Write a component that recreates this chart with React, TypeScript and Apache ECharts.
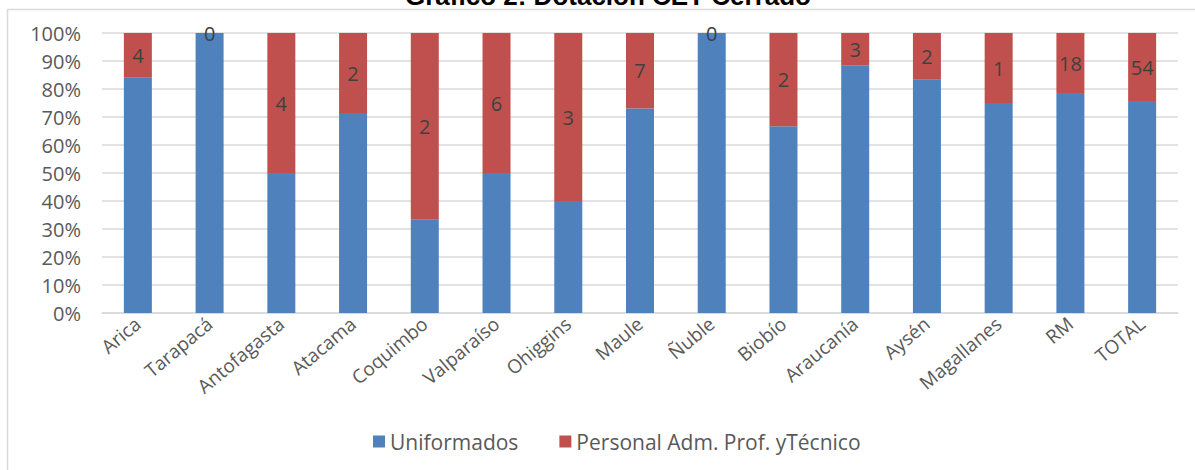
import React, { useEffect, useRef } from "react";
import * as echarts from "echarts";

const categories = [
  "Arica", "Tarapacá", "Antofagasta", "Atacama", "Coquimbo", "Valparaíso", "Ohiggins",
  "Maule", "Ñuble", "Biobío", "Araucanía", "Aysén", "Magallanes", "RM", "TOTAL",
];
const uniformados = [21, 2, 4, 5, 1, 6, 2, 19, 2, 4, 23, 10, 3, 66, 168];
const personal = [4, 0, 4, 2, 2, 6, 3, 7, 0, 2, 3, 2, 1, 18, 54];
const seriesNames = ["Uniformados", "Personal Adm. Prof. yTécnico"];
const title = "Gráfico 2: Dotación CET Cerrado";

const FONT = '"Open Sans", sans-serif';

export default function App() {
  const ref = useRef<HTMLDivElement>(null);
  useEffect(() => {
    if (!ref.current) return;
    const chart = echarts.init(ref.current, null, { renderer: "svg" });
    const totals = uniformados.map((u, i) => u + personal[i]);
    const blueData = uniformados.map((u, i) => ({ value: (u / totals[i]) * 100, count: u }));
    const redData = personal.map((p, i) => ({ value: (p / totals[i]) * 100, count: p }));
    chart.setOption({
      animation: false,
      backgroundColor: "#ffffff",
      graphic: [
        {
          type: "rect",
          shape: { x: 7.5, y: 9.5, width: 1400, height: 700 },
          style: { fill: "none", stroke: "#d9d9d9", lineWidth: 1.5 },
          silent: true,
        },
        {
          type: "text",
          x: 608,
          y: -4,
          style: {
            text: title,
            font: 'bold 26px "Liberation Sans", Arial, sans-serif',
            fill: "#000000",
            align: "center",
            verticalAlign: "middle",
          },
        },
      ],
      grid: { left: 102, right: 17, top: 33, bottom: 157, containLabel: false },
      legend: {
        bottom: 13,
        left: 368,
        itemWidth: 12,
        itemHeight: 12,
        itemGap: 41,
        icon: "rect",
        textStyle: { fontFamily: FONT, fontSize: 21, color: "#595959" },
        data: seriesNames,
      },
      xAxis: {
        type: "category",
        data: categories,
        axisLine: { lineStyle: { color: "#d9d9d9", width: 1.5 } },
        axisTick: { show: false },
        axisLabel: {
          rotate: 40,
          margin: 8,
          interval: 0,
          fontFamily: FONT,
          fontSize: 19,
          color: "#595959",
        },
      },
      yAxis: {
        type: "value",
        min: 0,
        max: 100,
        interval: 10,
        axisLine: { show: false },
        axisTick: { show: false },
        splitLine: { lineStyle: { color: "#d9d9d9", width: 1.5 } },
        axisLabel: {
          formatter: "{value}%",
          margin: 21,
          fontFamily: FONT,
          fontSize: 20,
          color: "#595959",
        },
      },
      series: [
        {
          name: seriesNames[0],
          type: "bar",
          stack: "a",
          barWidth: 28,
          data: blueData,
          itemStyle: { color: "#4F81BD" },
        },
        {
          name: seriesNames[1],
          type: "bar",
          stack: "a",
          barWidth: 28,
          data: redData,
          itemStyle: { color: "#C0504D" },
          label: {
            show: true,
            position: "inside",
            formatter: (p: any) => String(p.data.count),
            fontFamily: FONT,
            fontSize: 20,
            color: "#404040",
          },
        },
      ],
    });
    return () => chart.dispose();
  }, []);
  return (
    <div
      ref={ref}
      style={{ position: "absolute", left: 0, top: 0, width: 1195, height: 470 }}
    />
  );
}
